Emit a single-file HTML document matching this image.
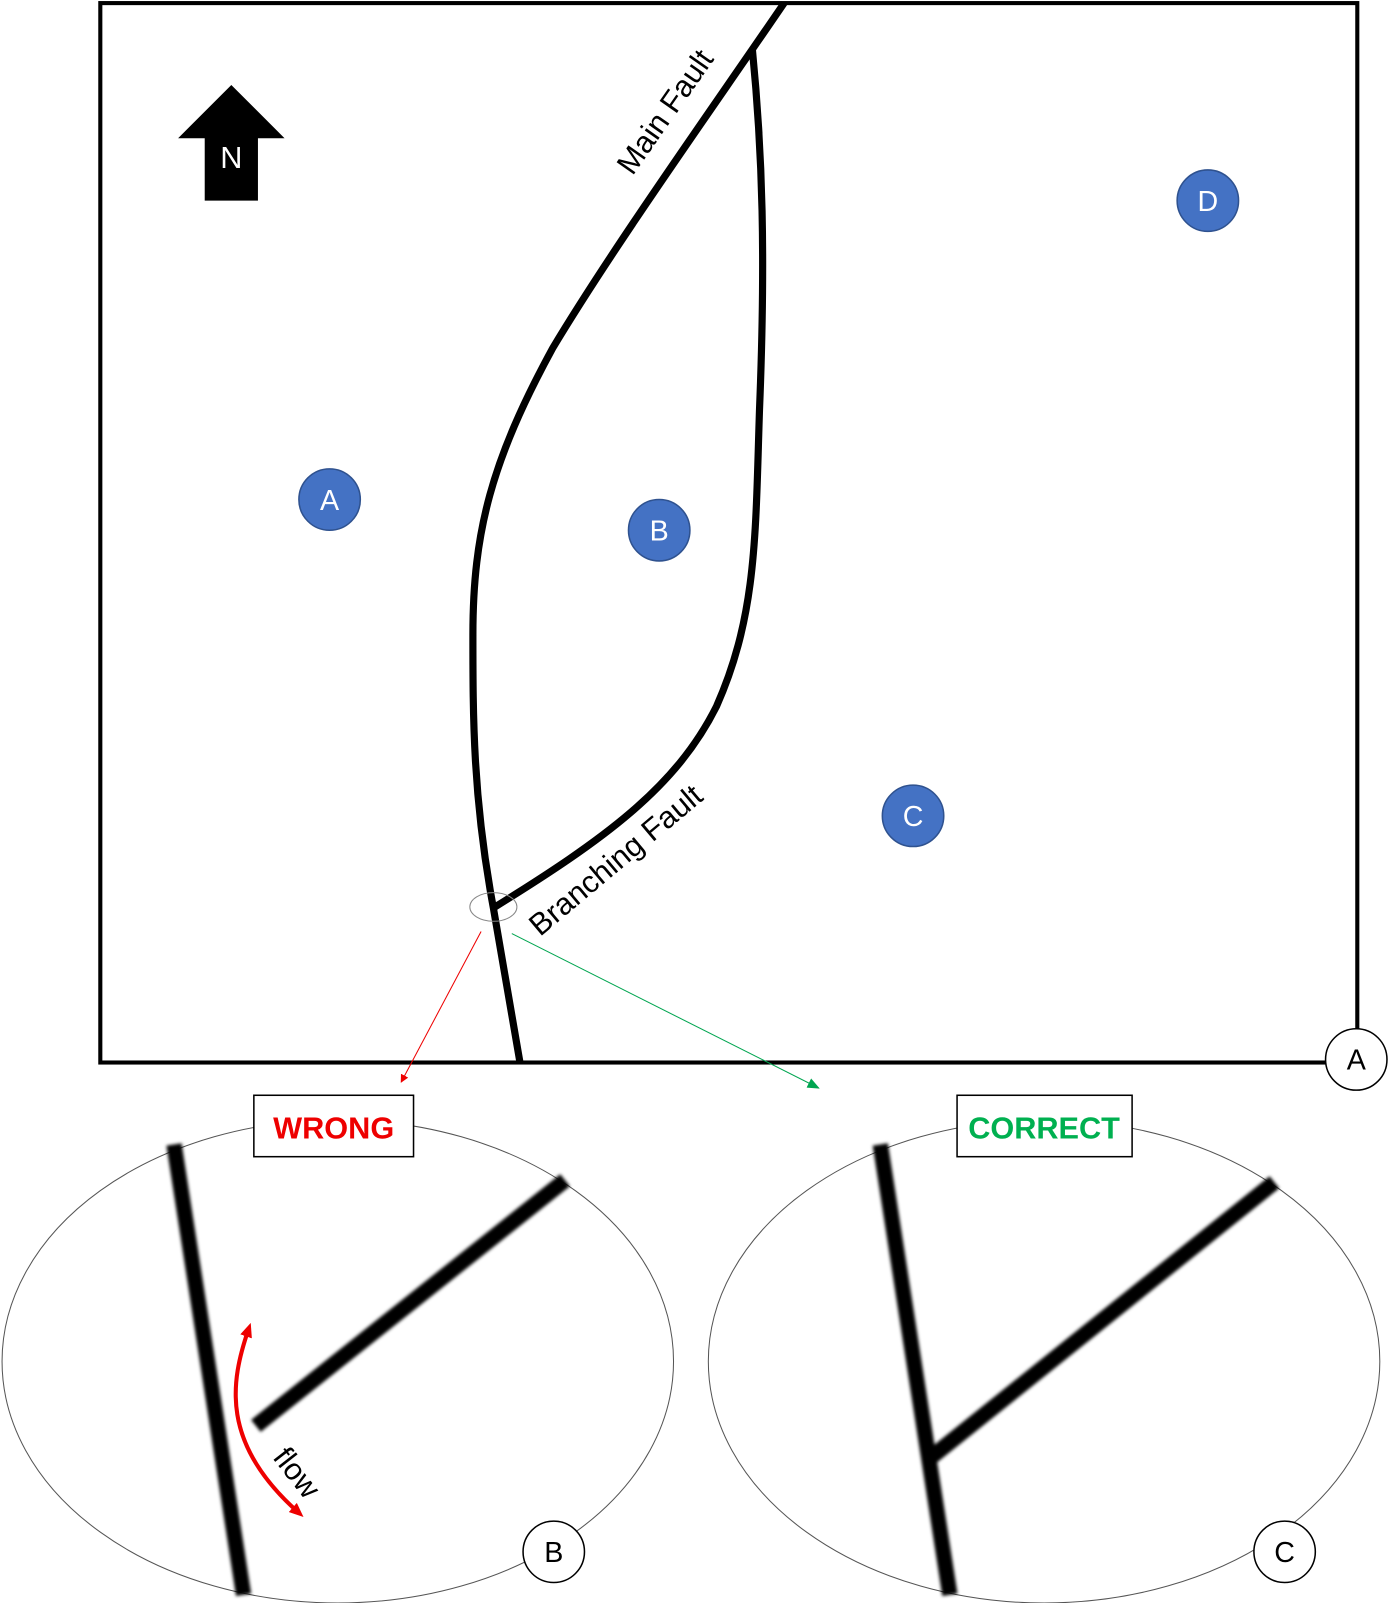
<!DOCTYPE html>
<html><head><style>html,body{margin:0;padding:0;background:#fff}svg{display:block}</style></head><body>
<svg width="1388" height="1603" viewBox="0 0 1356 1566" xmlns="http://www.w3.org/2000/svg" font-family="'Liberation Sans', sans-serif">
<defs>
<marker id="ar" markerWidth="8" markerHeight="8" refX="7" refY="4" orient="auto" markerUnits="userSpaceOnUse"><path d="M0,0 L8,4 L0,8z" fill="#e00"/></marker>
<marker id="ag" markerWidth="12" markerHeight="10" refX="11" refY="5" orient="auto" markerUnits="userSpaceOnUse"><path d="M0,0 L12,5 L0,10z" fill="#00a550"/></marker>
<marker id="af" markerWidth="14" markerHeight="12" refX="8" refY="6" orient="auto-start-reverse" markerUnits="userSpaceOnUse"><path d="M0,0 L14,6 L0,12z" fill="#e00"/></marker>
<filter id="bl"><feGaussianBlur stdDeviation="1.5"/></filter>
</defs>
<rect x="98" y="3" width="1228" height="1035" fill="none" stroke="#000" stroke-width="4"/>
<polygon points="226,83 278,135 252,135 252,196 200,196 200,135 174,135" fill="#000"/>
<text x="226" y="164" fill="#fff" font-size="30" text-anchor="middle">N</text>
<path d="M766,3 C700,100 600,240 540,340 C480,450 462,520 462,620 C462,700 462,780 482,887 L508,1038" fill="none" stroke="#000" stroke-width="7"/>
<path d="M735,48 C745,150 748,250 742,400 C738,520 740,600 700,690 C660,770 590,820 482,887" fill="none" stroke="#000" stroke-width="7"/>
<text transform="translate(658,115) rotate(-55)" font-size="30" text-anchor="middle">Main Fault</text>
<text transform="translate(608,848) rotate(-40)" font-size="30" text-anchor="middle">Branching Fault</text>
<g fill="#4472C4" stroke="#2f528f" stroke-width="1.5">
<circle cx="322" cy="488" r="30"/><circle cx="644" cy="518" r="30"/><circle cx="892" cy="797" r="30"/><circle cx="1180" cy="196" r="30"/></g>
<g fill="#fff" font-size="28" text-anchor="middle">
<text x="322" y="498">A</text><text x="644" y="528">B</text><text x="892" y="807">C</text><text x="1180" y="206">D</text></g>
<ellipse cx="482" cy="886" rx="23" ry="14" fill="none" stroke="#888" stroke-width="1"/>
<line x1="470" y1="910" x2="392" y2="1057" stroke="#e00" stroke-width="1" marker-end="url(#ar)"/>
<line x1="500" y1="912" x2="800" y2="1063" stroke="#00a550" stroke-width="1" marker-end="url(#ag)"/>
<circle cx="1325" cy="1035" r="30" fill="#fff" stroke="#000" stroke-width="1.5"/>
<text x="1325" y="1045" font-size="28" text-anchor="middle">A</text>
<ellipse cx="330" cy="1330" rx="328" ry="236" fill="none" stroke="#555" stroke-width="1"/>
<ellipse cx="1020" cy="1330" rx="328" ry="236" fill="none" stroke="#555" stroke-width="1"/>
<g stroke="#000" stroke-width="15" filter="url(#bl)">
<line x1="170" y1="1118" x2="238" y2="1558"/>
<line x1="552" y1="1153" x2="250" y2="1393"/>
<line x1="860" y1="1118" x2="928" y2="1558"/>
<line x1="1245" y1="1155" x2="908" y2="1425"/>
</g>
<path d="M243,1298 C225,1350 215,1410 292,1478" fill="none" stroke="#e00" stroke-width="4" marker-start="url(#af)" marker-end="url(#af)"/>
<text transform="translate(282,1445) rotate(52)" font-size="30" text-anchor="middle">flow</text>
<rect x="248" y="1070" width="156" height="60" fill="#fff" stroke="#000" stroke-width="1.5"/>
<text x="326" y="1112" fill="#e00" font-weight="bold" font-size="30" text-anchor="middle">WRONG</text>
<rect x="935" y="1070" width="171" height="60" fill="#fff" stroke="#000" stroke-width="1.5"/>
<text x="1020" y="1112" fill="#00b050" font-weight="bold" font-size="30" text-anchor="middle">CORRECT</text>
<circle cx="541" cy="1516" r="30" fill="#fff" stroke="#000" stroke-width="1.5"/>
<text x="541" y="1526" font-size="28" text-anchor="middle">B</text>
<circle cx="1255" cy="1516" r="30" fill="#fff" stroke="#000" stroke-width="1.5"/>
<text x="1255" y="1526" font-size="28" text-anchor="middle">C</text>
</svg>
</body></html>
